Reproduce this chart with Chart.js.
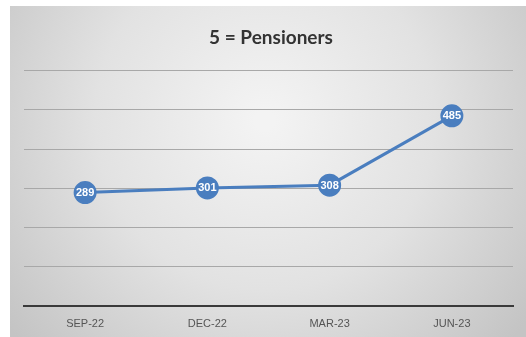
<!DOCTYPE html>
<html>
<head>
<meta charset="utf-8">
<script src="https://cdn.jsdelivr.net/npm/chart.js@4"></script>
<style>
html,body{margin:0;padding:0;background:#fff;}
#wrap{width:526px;height:337px;position:relative;}
</style>
</head>
<body>
<div id="wrap"><canvas id="c" width="526" height="337"></canvas></div>
<script>
const categories = ["SEP-22", "DEC-22", "MAR-23", "JUN-23"];
const pensioners = [289, 301, 308, 485];
const chartTitle = "5 = Pensioners";

const panelBg = {
  id: 'panelBg',
  beforeDraw(chart) {
    const ctx = chart.ctx;
    ctx.save();
    const x0 = 10, y0 = 6, x1 = 526, y1 = 337;
    const g = ctx.createRadialGradient(265, 120, 10, 265, 120, 330);
    g.addColorStop(0, '#f3f3f3');
    g.addColorStop(0.5, '#e2e2e2');
    g.addColorStop(1, '#c4c4c4');
    ctx.fillStyle = g;
    ctx.fillRect(x0, y0, x1 - x0, y1 - y0);
    ctx.restore();
  }
};

const pointLabels = {
  id: 'pointLabels',
  afterDatasetsDraw(chart) {
    const ctx = chart.ctx;
    const meta = chart.getDatasetMeta(0);
    ctx.save();
    ctx.font = 'bold 11px "Liberation Sans Narrow", "Liberation Sans", sans-serif';
    ctx.fillStyle = '#ffffff';
    ctx.textAlign = 'center';
    ctx.textBaseline = 'middle';
    meta.data.forEach((pt, i) => {
      ctx.fillText(String(chart.data.datasets[0].data[i]), pt.x, pt.y + 0.5);
    });
    ctx.restore();
  }
};

new Chart(document.getElementById('c'), {
  type: 'line',
  data: {
    labels: categories,
    datasets: [{
      data: pensioners,
      borderColor: '#4a7ebf',
      backgroundColor: '#4a7ebf',
      borderWidth: 3,
      pointRadius: 10,
      pointHoverRadius: 10,
      pointBackgroundColor: '#4a7ebf',
      pointBorderColor: '#4a7ebf',
      tension: 0
    }]
  },
  options: {
    responsive: false,
    animation: false,
    layout: { padding: { left: 24, right: 8, top: 0, bottom: -6 } },
    plugins: {
      legend: { display: false },
      tooltip: { enabled: false },
      title: {
        display: true,
        text: chartTitle,
        color: '#333333',
        font: { family: 'Lato, "Open Sans", sans-serif', size: 19, weight: 'bold', lineHeight: 1.2 },
        padding: { top: 26, bottom: 22 }
      }
    },
    scales: {
      x: {
        offset: true,
        grid: { display: false, drawTicks: false },
        border: { display: true, color: '#3a3a3a', width: 2 },
        ticks: {
          color: '#555555',
          padding: 12,
          font: { family: '"Liberation Sans Narrow", "Liberation Sans", sans-serif', size: 11 }
        }
      },
      y: {
        display: true,
        min: 0,
        max: 600,
        ticks: { stepSize: 100, display: false },
        grid: { color: '#a8a8a8', lineWidth: 1, drawTicks: false },
        border: { display: false }
      }
    }
  },
  plugins: [panelBg, pointLabels]
});
</script>
</body>
</html>
